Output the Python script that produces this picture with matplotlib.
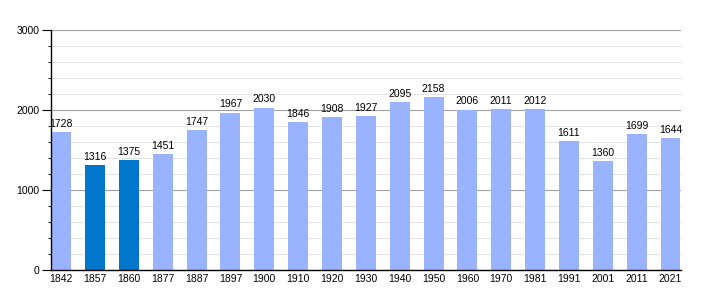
import matplotlib.pyplot as plt
from matplotlib.ticker import MultipleLocator

years = ['1842', '1857', '1860', '1877', '1887', '1897', '1900', '1910', '1920',
         '1930', '1940', '1950', '1960', '1970', '1981', '1991', '2001', '2011', '2021']
population = [1728, 1316, 1375, 1451, 1747, 1967, 2030, 1846, 1908,
              1927, 2095, 2158, 2006, 2011, 2012, 1611, 1360, 1699, 1644]
highlight = ['1857', '1860']

plt.rcParams['font.family'] = ['Liberation Sans', 'DejaVu Sans']

fig = plt.figure(figsize=(7.1, 3.0), dpi=100)
ax = fig.add_axes([51 / 710, 30 / 300, 630 / 710, 240 / 300])

colors = ['#0077cc' if y in highlight else '#99b3ff' for y in years]
x = list(range(len(years)))
ax.bar(x, population, width=0.59, color=colors, zorder=2)

for xi, v in zip(x, population):
    ax.text(xi, v + 40, str(v), ha='center', va='bottom', fontsize=7.5, zorder=3)

n = len(years)
ax.set_xlim(-0.3, n - 1 + 0.31)
ax.set_ylim(0, 3000)
ax.set_xticks(x)
ax.set_xticklabels(years, fontsize=7.5)
ax.tick_params(axis='x', length=0, pad=3)

ax.yaxis.set_major_locator(MultipleLocator(1000))
ax.yaxis.set_minor_locator(MultipleLocator(200))
ax.tick_params(axis='y', which='major', length=6.5, labelsize=7.5, pad=2)
ax.tick_params(axis='y', which='minor', length=2.5)
ax.grid(axis='y', which='major', color='#a0a0a0', linewidth=0.8, zorder=0)
ax.grid(axis='y', which='minor', color='#e4e4e4', linewidth=0.8, zorder=0)

for s in ['top', 'right']:
    ax.spines[s].set_visible(False)
ax.spines['left'].set_linewidth(1)
ax.spines['bottom'].set_linewidth(1)

fig.savefig('out.png', dpi=100)
